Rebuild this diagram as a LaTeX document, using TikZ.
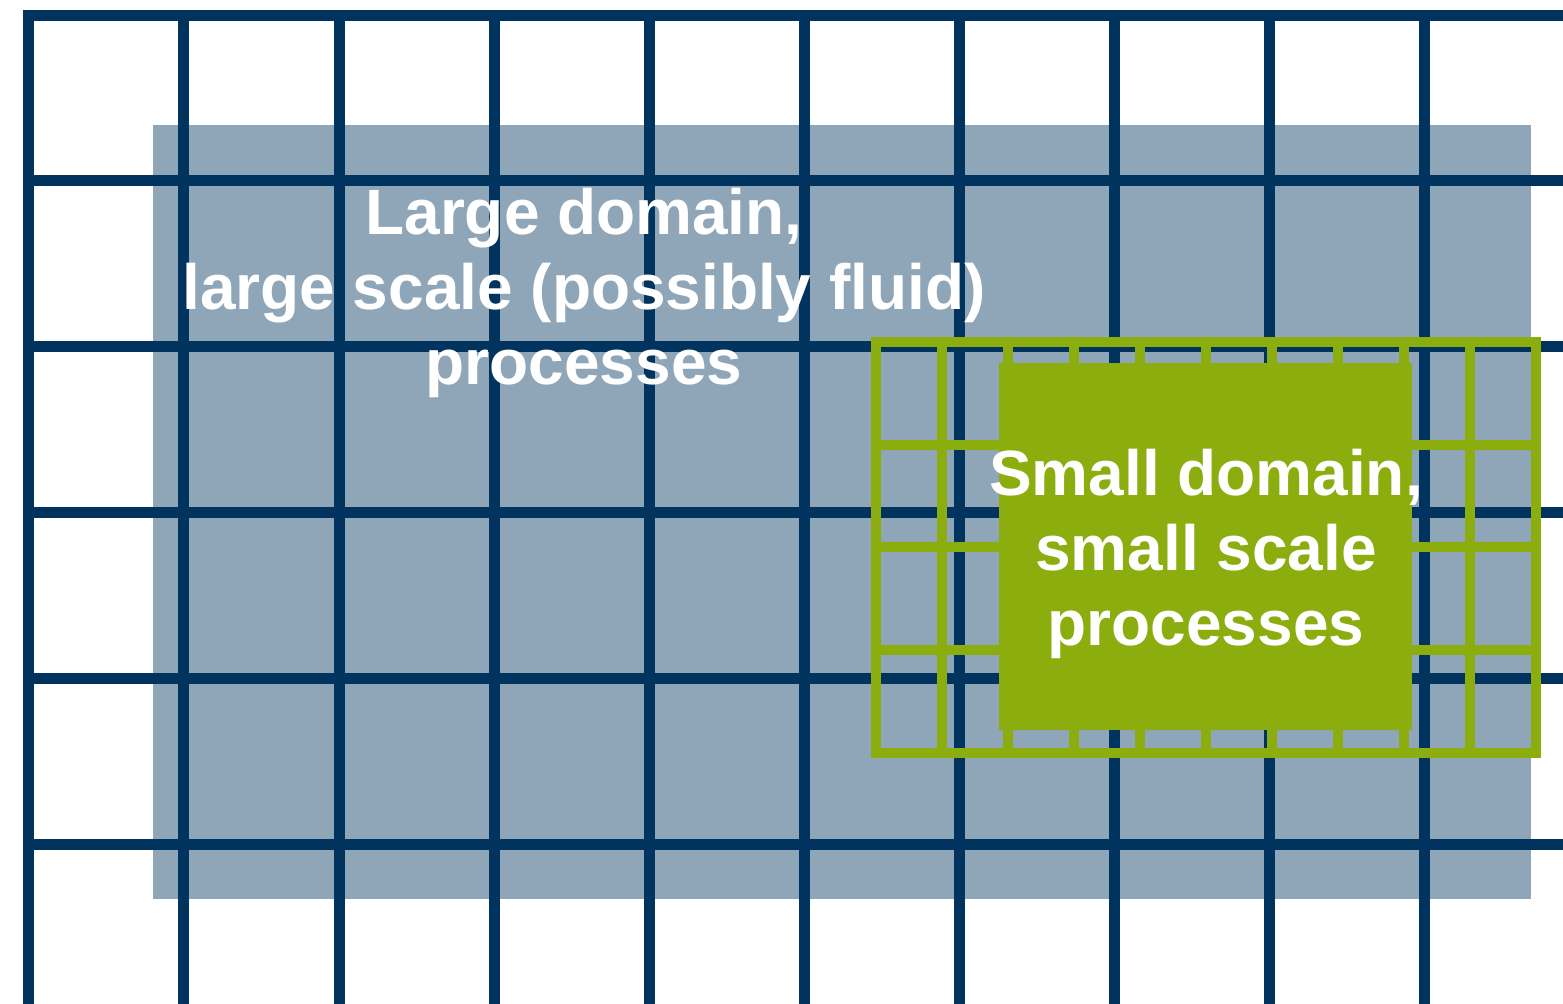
\documentclass[tikz,border=0pt]{standalone}
\usepackage{fontspec}
\setmainfont{Liberation Sans}
\usetikzlibrary{positioning}

\definecolor{gridnavy}{RGB}{0,52,94}
\definecolor{domaingray}{RGB}{143,165,184}
\definecolor{domaingreen}{RGB}{140,173,14}

\tikzset{
    navyline/.style={draw=gridnavy, line width=0.11cm},
    greenline/.style={draw=domaingreen, line width=0.10cm},
    domaintext/.style={text=white, align=center, font=\fontsize{18.2}{21.3}\selectfont\bfseries}
}

\begin{document}
\begin{tikzpicture}
            \useasboundingbox (0,0) rectangle (15.63,10.04);
            \clip (0,0) rectangle (15.63,10.04);

            % large domain
            \fill[domaingray] (1.53,1.05) rectangle (15.31,8.79);

            \foreach \x in {0.29, 1.84, 3.39, 4.94, 6.49, 8.04, 9.59, 11.14, 12.69, 14.24} {
                \draw[navyline] (\x,0)--(\x,9.935);
            }
            \foreach \y in {9.88, 8.23, 6.57, 4.91, 3.25, 1.59} {
                \draw[navyline] (0.235,\y)--(15.7,\y);
            }

            % small domain
            \foreach \i in {0,...,10} {
                \draw[greenline] (8.76+0.66*\i,2.51)--(8.76+0.66*\i,6.62);
            }
            \foreach \j in {0,...,4} {
                \draw[greenline] (8.71,2.51+1.0275*\j)--(15.41,2.51+1.0275*\j);
            }
            \fill[domaingreen] (9.99,2.74) rectangle (14.12,6.41);

            \node[domaintext] (large) at (5.84,7.11) {Large domain,\\large scale (possibly fluid)\\processes};
            \node[domaintext] (small) at (12.06,4.50) {Small domain,\\small scale\\processes};
        \end{tikzpicture}
\end{document}
